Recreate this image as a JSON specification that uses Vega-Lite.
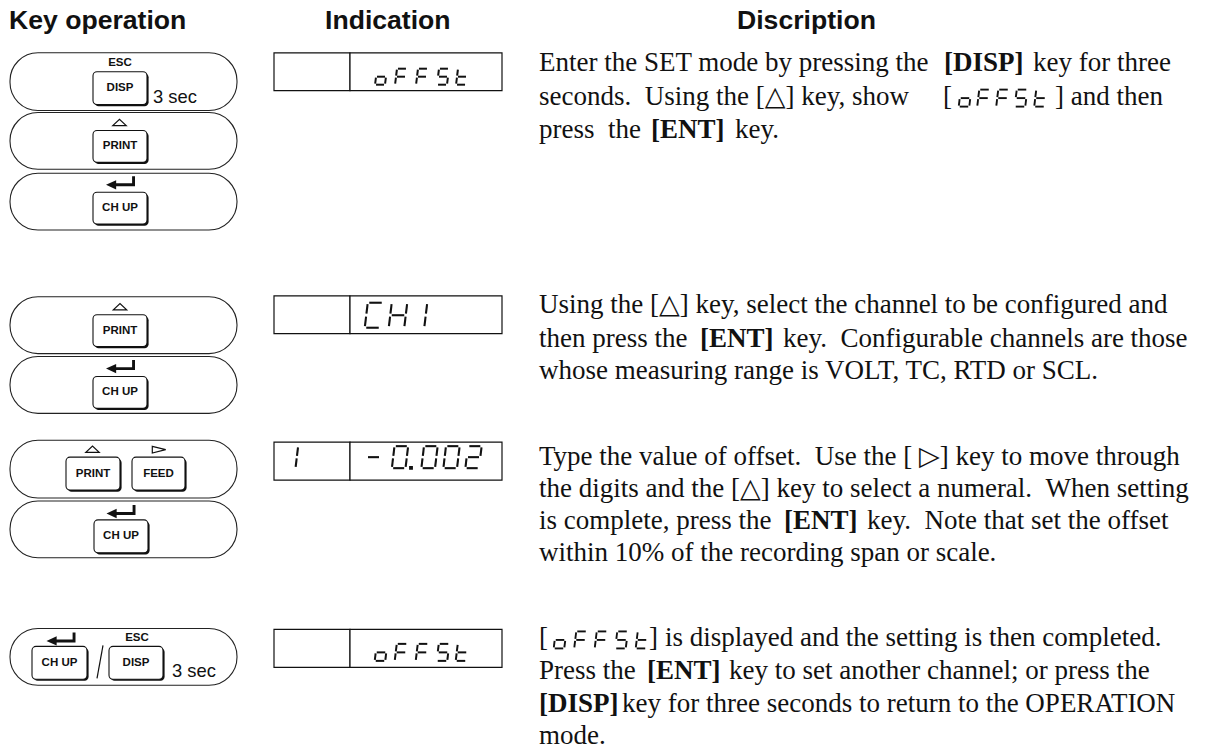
{
"$schema":"https://vega.github.io/schema/vega-lite/v6.json",
"width":1220,"height":749,"padding":0,
"autosize":{"type":"fit","contains":"padding"},
"background":"white",
"config":{"view":{"stroke":null}},
"resolve":{"scale":{"shape":"independent","size":"independent"}},
"datasets":{
"pills":[{"x":10,"x2":237,"y":53,"y2":111},{"x":10,"x2":237,"y":113,"y2":170},{"x":10,"x2":237,"y":174,"y2":231},{"x":10,"x2":237,"y":298,"y2":355},{"x":10,"x2":237,"y":358,"y2":415},{"x":10,"x2":237,"y":442,"y2":500},{"x":10,"x2":237,"y":503,"y2":560},{"x":10,"x2":237,"y":631,"y2":688}],
"keys":[{"x":93,"x2":147,"y":72,"y2":105},{"x":93,"x2":147,"y":131,"y2":163},{"x":93,"x2":147,"y":193,"y2":225},{"x":93,"x2":147,"y":316,"y2":348},{"x":93,"x2":147,"y":378,"y2":410},{"x":66,"x2":120,"y":459,"y2":492},{"x":132,"x2":185,"y":459,"y2":492},{"x":94,"x2":148,"y":522,"y2":555},{"x":32,"x2":87,"y":649,"y2":682},{"x":109,"x2":163,"y":649,"y2":682}],
"keylabels":[{"t":"ESC","x":120,"y":63.5},{"t":"DISP","x":120,"y":88.5},{"t":"PRINT","x":120,"y":147},{"t":"CH UP","x":120,"y":209},{"t":"PRINT","x":120,"y":332},{"t":"CH UP","x":120,"y":394},{"t":"PRINT","x":93,"y":475.5},{"t":"FEED","x":158.5,"y":475.5},{"t":"CH UP","x":121,"y":538.5},{"t":"ESC","x":137,"y":641},{"t":"CH UP","x":59.5,"y":665.5},{"t":"DISP","x":136,"y":665.5}],
"secs":[{"t":"3 sec","x":153,"y":103},{"t":"3 sec","x":172,"y":680}],
"tri":[{"k":"up","x":119.5,"y":123},{"k":"up","x":120,"y":308},{"k":"up","x":92.5,"y":451},{"k":"right","x":159,"y":451.5}],
"enter":[{"x":120.5,"y":182.5},{"x":120.5,"y":367},{"x":121,"y":512.5},{"x":61,"y":640.5}],
"slash":[{"x":103,"y":648,"x2":97,"y2":681}],
"boxes":[{"x":274,"x2":350,"y":53,"y2":91},{"x":350,"x2":502,"y":53,"y2":91},{"x":274,"x2":350,"y":297,"y2":335},{"x":350,"x2":502,"y":297,"y2":335},{"x":274,"x2":350,"y":444,"y2":482},{"x":350,"x2":502,"y":444,"y2":482},{"x":274,"x2":350,"y":632,"y2":670},{"x":350,"x2":502,"y":632,"y2":670}],
"segs":[
{"x":381,"y":77,"s":"c","g":"d1"},{"x":381,"y":77,"s":"d","g":"d1"},{"x":381,"y":77,"s":"e","g":"d1"},{"x":381,"y":77,"s":"g","g":"d1"},
{"x":401,"y":77,"s":"a","g":"d1"},{"x":401,"y":77,"s":"e","g":"d1"},{"x":401,"y":77,"s":"f","g":"d1"},{"x":401,"y":77,"s":"g","g":"d1"},
{"x":422,"y":77,"s":"a","g":"d1"},{"x":422,"y":77,"s":"e","g":"d1"},{"x":422,"y":77,"s":"f","g":"d1"},{"x":422,"y":77,"s":"g","g":"d1"},
{"x":443,"y":77,"s":"a","g":"d1"},{"x":443,"y":77,"s":"f","g":"d1"},{"x":443,"y":77,"s":"g","g":"d1"},{"x":443,"y":77,"s":"c","g":"d1"},{"x":443,"y":77,"s":"d","g":"d1"},
{"x":462,"y":77,"s":"f","g":"d1"},{"x":462,"y":77,"s":"e","g":"d1"},{"x":462,"y":77,"s":"d","g":"d1"},{"x":462,"y":77,"s":"g","g":"d1"},
{"x":381,"y":655,"s":"c","g":"d4"},{"x":381,"y":655,"s":"d","g":"d4"},{"x":381,"y":655,"s":"e","g":"d4"},{"x":381,"y":655,"s":"g","g":"d4"},
{"x":401,"y":655,"s":"a","g":"d4"},{"x":401,"y":655,"s":"e","g":"d4"},{"x":401,"y":655,"s":"f","g":"d4"},{"x":401,"y":655,"s":"g","g":"d4"},
{"x":422,"y":655,"s":"a","g":"d4"},{"x":422,"y":655,"s":"e","g":"d4"},{"x":422,"y":655,"s":"f","g":"d4"},{"x":422,"y":655,"s":"g","g":"d4"},
{"x":443,"y":655,"s":"a","g":"d4"},{"x":443,"y":655,"s":"f","g":"d4"},{"x":443,"y":655,"s":"g","g":"d4"},{"x":443,"y":655,"s":"c","g":"d4"},{"x":443,"y":655,"s":"d","g":"d4"},
{"x":462,"y":655,"s":"f","g":"d4"},{"x":462,"y":655,"s":"e","g":"d4"},{"x":462,"y":655,"s":"d","g":"d4"},{"x":462,"y":655,"s":"g","g":"d4"},
{"x":374,"y":316.5,"s":"a","g":"d2"},{"x":374,"y":316.5,"s":"f","g":"d2"},{"x":374,"y":316.5,"s":"e","g":"d2"},{"x":374,"y":316.5,"s":"d","g":"d2"},
{"x":398,"y":316.5,"s":"b","g":"d2"},{"x":398,"y":316.5,"s":"c","g":"d2"},{"x":398,"y":316.5,"s":"e","g":"d2"},{"x":398,"y":316.5,"s":"f","g":"d2"},{"x":398,"y":316.5,"s":"g","g":"d2"},
{"x":418,"y":316.5,"s":"b","g":"d2"},{"x":418,"y":316.5,"s":"c","g":"d2"},
{"x":290,"y":459,"s":"b","g":"d3"},{"x":290,"y":459,"s":"c","g":"d3"},
{"x":373.5,"y":459,"s":"g","g":"d3"},
{"x":400,"y":459,"s":"a","g":"d3"},{"x":400,"y":459,"s":"b","g":"d3"},{"x":400,"y":459,"s":"c","g":"d3"},{"x":400,"y":459,"s":"d","g":"d3"},{"x":400,"y":459,"s":"e","g":"d3"},{"x":400,"y":459,"s":"f","g":"d3"},{"x":400,"y":459,"s":"dp","g":"d3"},
{"x":429.5,"y":459,"s":"a","g":"d3"},{"x":429.5,"y":459,"s":"b","g":"d3"},{"x":429.5,"y":459,"s":"c","g":"d3"},{"x":429.5,"y":459,"s":"d","g":"d3"},{"x":429.5,"y":459,"s":"e","g":"d3"},{"x":429.5,"y":459,"s":"f","g":"d3"},
{"x":451.5,"y":459,"s":"a","g":"d3"},{"x":451.5,"y":459,"s":"b","g":"d3"},{"x":451.5,"y":459,"s":"c","g":"d3"},{"x":451.5,"y":459,"s":"d","g":"d3"},{"x":451.5,"y":459,"s":"e","g":"d3"},{"x":451.5,"y":459,"s":"f","g":"d3"},
{"x":473.5,"y":459,"s":"a","g":"d3"},{"x":473.5,"y":459,"s":"b","g":"d3"},{"x":473.5,"y":459,"s":"g","g":"d3"},{"x":473.5,"y":459,"s":"e","g":"d3"},{"x":473.5,"y":459,"s":"d","g":"d3"},
{"x":965,"y":98.5,"s":"c","g":"in"},{"x":965,"y":98.5,"s":"d","g":"in"},{"x":965,"y":98.5,"s":"e","g":"in"},{"x":965,"y":98.5,"s":"g","g":"in"},
{"x":983.5,"y":98.5,"s":"a","g":"in"},{"x":983.5,"y":98.5,"s":"e","g":"in"},{"x":983.5,"y":98.5,"s":"f","g":"in"},{"x":983.5,"y":98.5,"s":"g","g":"in"},
{"x":1002.5,"y":98.5,"s":"a","g":"in"},{"x":1002.5,"y":98.5,"s":"e","g":"in"},{"x":1002.5,"y":98.5,"s":"f","g":"in"},{"x":1002.5,"y":98.5,"s":"g","g":"in"},
{"x":1021,"y":98.5,"s":"a","g":"in"},{"x":1021,"y":98.5,"s":"f","g":"in"},{"x":1021,"y":98.5,"s":"g","g":"in"},{"x":1021,"y":98.5,"s":"c","g":"in"},{"x":1021,"y":98.5,"s":"d","g":"in"},
{"x":1040.5,"y":98.5,"s":"f","g":"in"},{"x":1040.5,"y":98.5,"s":"e","g":"in"},{"x":1040.5,"y":98.5,"s":"d","g":"in"},{"x":1040.5,"y":98.5,"s":"g","g":"in"},
{"x":560,"y":642.5,"s":"c","g":"in"},{"x":560,"y":642.5,"s":"d","g":"in"},{"x":560,"y":642.5,"s":"e","g":"in"},{"x":560,"y":642.5,"s":"g","g":"in"},
{"x":580.5,"y":642.5,"s":"a","g":"in"},{"x":580.5,"y":642.5,"s":"e","g":"in"},{"x":580.5,"y":642.5,"s":"f","g":"in"},{"x":580.5,"y":642.5,"s":"g","g":"in"},
{"x":601,"y":642.5,"s":"a","g":"in"},{"x":601,"y":642.5,"s":"e","g":"in"},{"x":601,"y":642.5,"s":"f","g":"in"},{"x":601,"y":642.5,"s":"g","g":"in"},
{"x":621.5,"y":642.5,"s":"a","g":"in"},{"x":621.5,"y":642.5,"s":"f","g":"in"},{"x":621.5,"y":642.5,"s":"g","g":"in"},{"x":621.5,"y":642.5,"s":"c","g":"in"},{"x":621.5,"y":642.5,"s":"d","g":"in"},
{"x":642,"y":642.5,"s":"f","g":"in"},{"x":642,"y":642.5,"s":"e","g":"in"},{"x":642,"y":642.5,"s":"d","g":"in"},{"x":642,"y":642.5,"s":"g","g":"in"}
],
"heads":[{"t":"Key operation","x":9,"y":29},{"t":"Indication","x":325,"y":29},{"t":"Discription","x":737,"y":29}],
"desc":[
{"t":"Enter the SET mode by pressing the","x":539,"y":71},
{"t":"key for three","x":1033,"y":71},
{"t":"seconds. \u00a0Using the [△] key, show","x":539,"y":105},
{"t":"[","x":943,"y":105},
{"t":"] and then","x":1055,"y":105},
{"t":"press \u00a0the","x":539,"y":138.5},
{"t":"key.","x":735,"y":138.5},
{"t":"Using the [△] key, select the channel to be configured and","x":539,"y":314},
{"t":"then press the","x":539,"y":348},
{"t":"key. \u00a0Configurable channels are those","x":783,"y":348},
{"t":"whose measuring range is VOLT, TC, RTD or SCL.","x":539,"y":381},
{"t":"Type the value of offset. \u00a0Use the [ ▷] key to move through","x":539,"y":466.5},
{"t":"the digits and the [△] key to select a numeral. \u00a0When setting","x":539,"y":499},
{"t":"is complete, press the","x":539,"y":531.5},
{"t":"key. \u00a0Note that set the offset","x":867,"y":531.5},
{"t":"within 10% of the recording span or scale.","x":539,"y":563},
{"t":"[","x":539,"y":649},
{"t":"]","x":649,"y":649},
{"t":"is displayed and the setting is then completed.","x":665,"y":649},
{"t":"Press the","x":539,"y":682},
{"t":"key to set another channel; or press the","x":729,"y":682},
{"t":"key for three seconds to return to the OPERATION","x":622,"y":715},
{"t":"mode.","x":539,"y":747}],
"descb":[
{"t":"[DISP]","x":944,"y":71},
{"t":"[ENT]","x":651,"y":138.5},
{"t":"[ENT]","x":700,"y":348},
{"t":"[ENT]","x":784,"y":531.5},
{"t":"[ENT]","x":647,"y":682},
{"t":"[DISP]","x":539,"y":715}]
},
"layer":[
{"data":{"name":"pills"},"mark":{"type":"rect","fill":"white","stroke":"#222","strokeWidth":1.1,"cornerRadius":28},
 "encoding":{"x":{"field":"x","type":"quantitative","scale":{"domain":[0,1220],"nice":false,"zero":false},"axis":null},"x2":{"field":"x2"},
  "y":{"field":"y","type":"quantitative","scale":{"domain":[0,749],"nice":false,"zero":false,"reverse":true},"axis":null},"y2":{"field":"y2"}}},
{"data":{"name":"keys"},"mark":{"type":"rect","fill":"#111","cornerRadius":4,"xOffset":1.6,"x2Offset":1.6,"yOffset":1.6,"y2Offset":1.6},
 "encoding":{"x":{"field":"x","type":"quantitative","scale":{"domain":[0,1220],"nice":false,"zero":false},"axis":null},"x2":{"field":"x2"},
  "y":{"field":"y","type":"quantitative","scale":{"domain":[0,749],"nice":false,"zero":false,"reverse":true},"axis":null},"y2":{"field":"y2"}}},
{"data":{"name":"keys"},"mark":{"type":"rect","fill":"white","stroke":"#111","strokeWidth":1.1,"cornerRadius":4},
 "encoding":{"x":{"field":"x","type":"quantitative","scale":{"domain":[0,1220],"nice":false,"zero":false},"axis":null},"x2":{"field":"x2"},
  "y":{"field":"y","type":"quantitative","scale":{"domain":[0,749],"nice":false,"zero":false,"reverse":true},"axis":null},"y2":{"field":"y2"}}},
{"data":{"name":"keylabels"},"mark":{"type":"text","font":"Liberation Sans","fontWeight":"bold","fontSize":11.5,"align":"center","baseline":"middle","color":"#111"},
 "encoding":{"x":{"field":"x","type":"quantitative","scale":{"domain":[0,1220],"nice":false,"zero":false},"axis":null},
  "y":{"field":"y","type":"quantitative","scale":{"domain":[0,749],"nice":false,"zero":false,"reverse":true},"axis":null},"text":{"field":"t"}}},
{"data":{"name":"secs"},"mark":{"type":"text","font":"Liberation Sans","fontSize":18.4,"align":"left","baseline":"alphabetic","color":"#111"},
 "encoding":{"x":{"field":"x","type":"quantitative","scale":{"domain":[0,1220],"nice":false,"zero":false},"axis":null},
  "y":{"field":"y","type":"quantitative","scale":{"domain":[0,749],"nice":false,"zero":false,"reverse":true},"axis":null},"text":{"field":"t"}}},
{"data":{"name":"tri"},"mark":{"type":"point","filled":false,"color":"#111","strokeWidth":1.2,"opacity":1,"size":180},
 "encoding":{"x":{"field":"x","type":"quantitative","scale":{"domain":[0,1220],"nice":false,"zero":false},"axis":null},
  "y":{"field":"y","type":"quantitative","scale":{"domain":[0,749],"nice":false,"zero":false,"reverse":true},"axis":null},
  "shape":{"field":"k","type":"nominal","scale":{"domain":["up","right"],"range":["M-1,0.46L1,0.46L0,-0.46Z","M-1,-0.5L1,0L-1,0.5Z"]},"legend":null}}},
{"data":{"name":"enter"},"mark":{"type":"point","filled":true,"color":"#111","opacity":1,"size":841,"shape":"M-1,0.21L-0.3,-0.11L-0.3,0.11L0.8,0.11L0.8,-0.38L1,-0.38L1,0.31L-0.3,0.31L-0.3,0.53Z"},
 "encoding":{"x":{"field":"x","type":"quantitative","scale":{"domain":[0,1220],"nice":false,"zero":false},"axis":null},
  "y":{"field":"y","type":"quantitative","scale":{"domain":[0,749],"nice":false,"zero":false,"reverse":true},"axis":null}}},
{"data":{"name":"slash"},"mark":{"type":"rule","color":"#111","strokeWidth":1.2},
 "encoding":{"x":{"field":"x","type":"quantitative","scale":{"domain":[0,1220],"nice":false,"zero":false},"axis":null},"x2":{"field":"x2"},
  "y":{"field":"y","type":"quantitative","scale":{"domain":[0,749],"nice":false,"zero":false,"reverse":true},"axis":null},"y2":{"field":"y2"}}},
{"data":{"name":"boxes"},"mark":{"type":"rect","fill":"white","stroke":"#111","strokeWidth":1.2},
 "encoding":{"x":{"field":"x","type":"quantitative","scale":{"domain":[0,1220],"nice":false,"zero":false},"axis":null},"x2":{"field":"x2"},
  "y":{"field":"y","type":"quantitative","scale":{"domain":[0,749],"nice":false,"zero":false,"reverse":true},"axis":null},"y2":{"field":"y2"}}},
{"data":{"name":"segs"},"transform":[{"filter":"datum.g=='d1'"}],"mark":{"type":"point","filled":false,"color":"#111","strokeWidth":2,"opacity":1,"size":256},
 "encoding":{"x":{"field":"x","type":"quantitative","scale":{"domain":[0,1220],"nice":false,"zero":false},"axis":null},
  "y":{"field":"y","type":"quantitative","scale":{"domain":[0,749],"nice":false,"zero":false,"reverse":true},"axis":null},
  "shape":{"field":"s","type":"nominal","scale":{"domain":["a","b","c","d","e","f","g","dp"],"range":["M-0.38,-1L0.62,-1","M0.726,-0.88L0.634,-0.12","M0.606,0.12L0.514,0.88","M-0.62,1L0.38,1","M-0.634,0.12L-0.726,0.88","M-0.514,-0.88L-0.606,-0.12","M-0.5,0L0.5,0","M0.92,0.9L1.08,0.9L1.08,1.05L0.92,1.05Z"]},"legend":null}}},
{"data":{"name":"segs"},"transform":[{"filter":"datum.g=='d2'"}],"mark":{"type":"point","filled":false,"color":"#111","strokeWidth":2.1,"opacity":1,"size":625},
 "encoding":{"x":{"field":"x","type":"quantitative","scale":{"domain":[0,1220],"nice":false,"zero":false},"axis":null},
  "y":{"field":"y","type":"quantitative","scale":{"domain":[0,749],"nice":false,"zero":false,"reverse":true},"axis":null},
  "shape":{"field":"s","type":"nominal","scale":{"domain":["a","b","c","d","e","f","g","dp"],"range":["M-0.38,-1L0.62,-1","M0.726,-0.88L0.634,-0.12","M0.606,0.12L0.514,0.88","M-0.62,1L0.38,1","M-0.634,0.12L-0.726,0.88","M-0.514,-0.88L-0.606,-0.12","M-0.5,0L0.5,0","M0.92,0.9L1.08,0.9L1.08,1.05L0.92,1.05Z"]},"legend":null}}},
{"data":{"name":"segs"},"transform":[{"filter":"datum.g=='d3'"}],"mark":{"type":"point","filled":false,"color":"#111","strokeWidth":2.1,"opacity":1,"size":484},
 "encoding":{"x":{"field":"x","type":"quantitative","scale":{"domain":[0,1220],"nice":false,"zero":false},"axis":null},
  "y":{"field":"y","type":"quantitative","scale":{"domain":[0,749],"nice":false,"zero":false,"reverse":true},"axis":null},
  "shape":{"field":"s","type":"nominal","scale":{"domain":["a","b","c","d","e","f","g","dp"],"range":["M-0.38,-1L0.62,-1","M0.726,-0.88L0.634,-0.12","M0.606,0.12L0.514,0.88","M-0.62,1L0.38,1","M-0.634,0.12L-0.726,0.88","M-0.514,-0.88L-0.606,-0.12","M-0.5,0L0.5,0","M0.92,0.9L1.08,0.9L1.08,1.05L0.92,1.05Z"]},"legend":null}}},
{"data":{"name":"segs"},"transform":[{"filter":"datum.g=='d4'"}],"mark":{"type":"point","filled":false,"color":"#111","strokeWidth":2,"opacity":1,"size":289},
 "encoding":{"x":{"field":"x","type":"quantitative","scale":{"domain":[0,1220],"nice":false,"zero":false},"axis":null},
  "y":{"field":"y","type":"quantitative","scale":{"domain":[0,749],"nice":false,"zero":false,"reverse":true},"axis":null},
  "shape":{"field":"s","type":"nominal","scale":{"domain":["a","b","c","d","e","f","g","dp"],"range":["M-0.38,-1L0.62,-1","M0.726,-0.88L0.634,-0.12","M0.606,0.12L0.514,0.88","M-0.62,1L0.38,1","M-0.634,0.12L-0.726,0.88","M-0.514,-0.88L-0.606,-0.12","M-0.5,0L0.5,0","M0.92,0.9L1.08,0.9L1.08,1.05L0.92,1.05Z"]},"legend":null}}},
{"data":{"name":"segs"},"transform":[{"filter":"datum.g=='in'"}],"mark":{"type":"point","filled":false,"color":"#111","strokeWidth":1.9,"opacity":1,"size":289},
 "encoding":{"x":{"field":"x","type":"quantitative","scale":{"domain":[0,1220],"nice":false,"zero":false},"axis":null},
  "y":{"field":"y","type":"quantitative","scale":{"domain":[0,749],"nice":false,"zero":false,"reverse":true},"axis":null},
  "shape":{"field":"s","type":"nominal","scale":{"domain":["a","b","c","d","e","f","g","dp"],"range":["M-0.38,-1L0.62,-1","M0.726,-0.88L0.634,-0.12","M0.606,0.12L0.514,0.88","M-0.62,1L0.38,1","M-0.634,0.12L-0.726,0.88","M-0.514,-0.88L-0.606,-0.12","M-0.5,0L0.5,0","M0.92,0.9L1.08,0.9L1.08,1.05L0.92,1.05Z"]},"legend":null}}},
{"data":{"name":"heads"},"mark":{"type":"text","font":"Liberation Sans","fontWeight":"bold","fontSize":26.6,"align":"left","baseline":"alphabetic","color":"#111"},
 "encoding":{"x":{"field":"x","type":"quantitative","scale":{"domain":[0,1220],"nice":false,"zero":false},"axis":null},
  "y":{"field":"y","type":"quantitative","scale":{"domain":[0,749],"nice":false,"zero":false,"reverse":true},"axis":null},"text":{"field":"t"}}},
{"data":{"name":"desc"},"mark":{"type":"text","font":"Liberation Serif, DejaVu Sans, serif","fontSize":27,"align":"left","baseline":"alphabetic","color":"#111"},
 "encoding":{"x":{"field":"x","type":"quantitative","scale":{"domain":[0,1220],"nice":false,"zero":false},"axis":null},
  "y":{"field":"y","type":"quantitative","scale":{"domain":[0,749],"nice":false,"zero":false,"reverse":true},"axis":null},"text":{"field":"t"}}},
{"data":{"name":"descb"},"mark":{"type":"text","font":"Liberation Serif, DejaVu Sans, serif","fontWeight":"bold","fontSize":27,"align":"left","baseline":"alphabetic","color":"#111"},
 "encoding":{"x":{"field":"x","type":"quantitative","scale":{"domain":[0,1220],"nice":false,"zero":false},"axis":null},
  "y":{"field":"y","type":"quantitative","scale":{"domain":[0,749],"nice":false,"zero":false,"reverse":true},"axis":null},"text":{"field":"t"}}}
]
}
